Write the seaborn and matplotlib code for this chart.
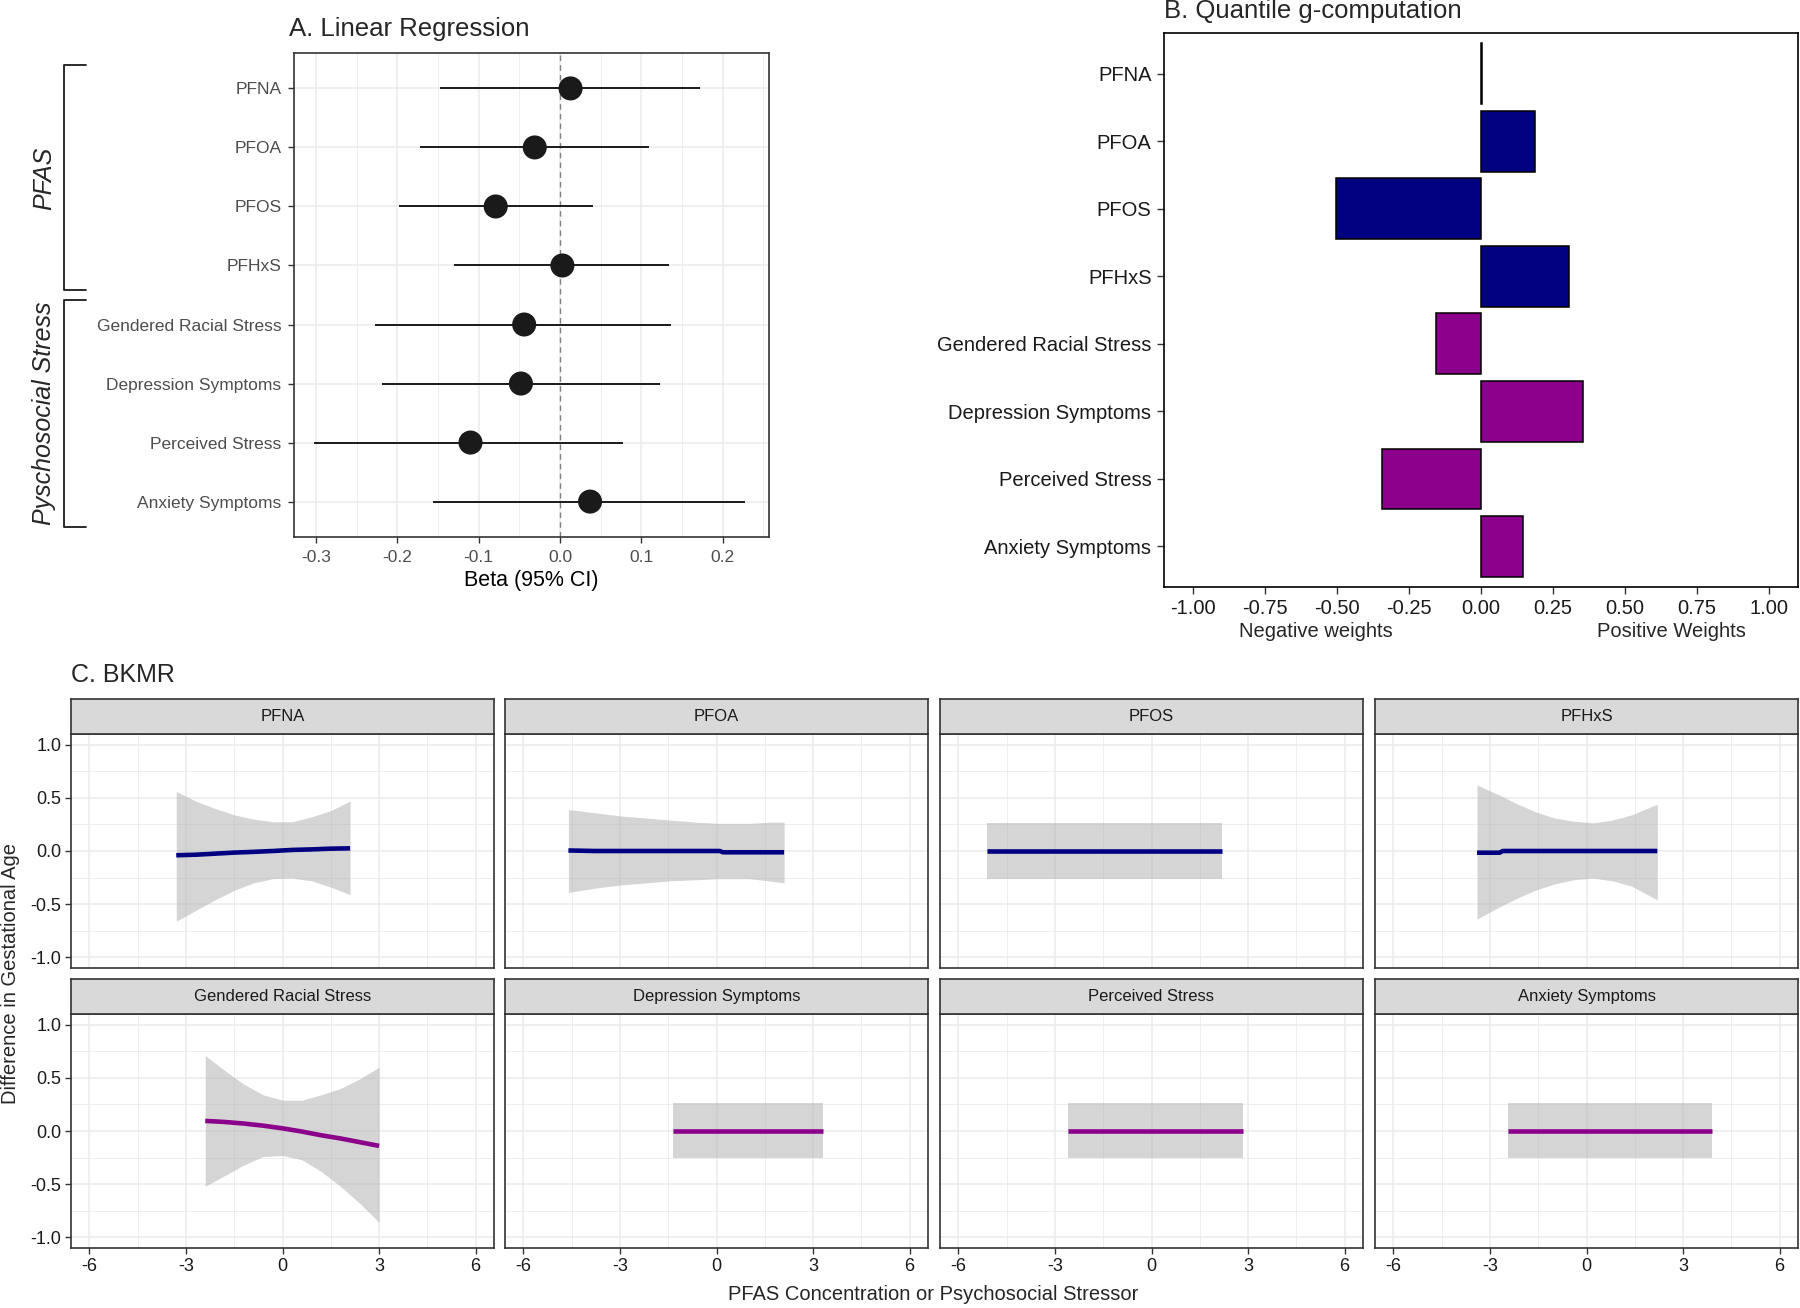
import numpy as np
import pandas as pd
import matplotlib.pyplot as plt
import seaborn as sns

# exposures, listed top to bottom
exposures = ['PFNA', 'PFOA', 'PFOS', 'PFHxS', 'Gendered Racial Stress',
             'Depression Symptoms', 'Perceived Stress', 'Anxiety Symptoms']
exp_group = ['PFAS'] * 4 + ['Stress'] * 4

# A. linear regression betas and 95% CI
beta = [0.013, -0.031, -0.079, 0.003, -0.044, -0.048, -0.110, 0.037]
ci_low = [-0.147, -0.172, -0.198, -0.130, -0.228, -0.219, -0.302, -0.156]
ci_high = [0.172, 0.109, 0.040, 0.134, 0.137, 0.123, 0.078, 0.228]

# B. quantile g-computation weights
qg_weights = [0.005, 0.188, -0.503, 0.305, -0.155, 0.355, -0.342, 0.147]

# C. BKMR univariate exposure-response (x, estimate, lower, upper)
pfna_x = [-3.3, -2.7, -2.1, -1.5, -0.9, -0.3, 0.3, 0.9, 1.5, 2.1]
pfna_est = [-0.04, -0.035, -0.025, -0.015, -0.008, 0.0, 0.01, 0.015, 0.022, 0.025]
pfna_lo = [-0.66, -0.56, -0.46, -0.37, -0.30, -0.26, -0.255, -0.28, -0.34, -0.41]
pfna_hi = [0.56, 0.47, 0.40, 0.34, 0.30, 0.275, 0.275, 0.32, 0.38, 0.47]

pfoa_x = [-4.6, -3.8, -3.0, -2.2, -1.4, -0.6, 0.1, 0.2, 1.0, 1.6, 2.1]
pfoa_est = [0.005, 0.0, 0.0, 0.0, 0.0, 0.0, 0.0, -0.012, -0.012, -0.012, -0.012]
pfoa_lo = [-0.39, -0.35, -0.32, -0.30, -0.28, -0.27, -0.26, -0.26, -0.26, -0.28, -0.30]
pfoa_hi = [0.39, 0.36, 0.33, 0.31, 0.29, 0.27, 0.26, 0.26, 0.26, 0.27, 0.27]

pfos_x = [-5.1, 2.2]
pfos_est = [0.0, 0.0]
pfos_lo = [-0.265, -0.265]
pfos_hi = [0.26, 0.26]

pfhxs_x = [-3.4, -2.7, -2.6, -2.2, -1.6, -1.0, -0.4, 0.2, 0.8, 1.4, 2.2]
pfhxs_est = [-0.016, -0.016, 0.0, 0.0, 0.0, 0.0, 0.0, 0.0, 0.0, 0.0, 0.0]
pfhxs_lo = [-0.64, -0.525, -0.51, -0.45, -0.37, -0.31, -0.27, -0.255, -0.28, -0.33, -0.46]
pfhxs_hi = [0.62, 0.525, 0.51, 0.45, 0.37, 0.31, 0.28, 0.265, 0.29, 0.34, 0.44]

grs_x = [-2.4, -1.8, -1.2, -0.6, 0.0, 0.6, 1.2, 1.8, 2.4, 3.0]
grs_est = [0.095, 0.085, 0.07, 0.05, 0.025, -0.005, -0.04, -0.07, -0.105, -0.14]
grs_lo = [-0.52, -0.42, -0.32, -0.24, -0.23, -0.27, -0.38, -0.52, -0.68, -0.86]
grs_hi = [0.71, 0.57, 0.44, 0.34, 0.29, 0.29, 0.34, 0.40, 0.49, 0.60]

dep_x = [-1.35, 3.3]
dep_est = [0.0, 0.0]
dep_lo = [-0.25, -0.25]
dep_hi = [0.26, 0.26]

perc_x = [-2.6, 2.85]
perc_est = [0.0, 0.0]
perc_lo = [-0.25, -0.25]
perc_hi = [0.26, 0.26]

anx_x = [-2.45, 3.9]
anx_est = [0.0, 0.0]
anx_lo = [-0.25, -0.25]
anx_hi = [0.26, 0.26]

bkmr_curves = [
    (pfna_x, pfna_est, pfna_lo, pfna_hi),
    (pfoa_x, pfoa_est, pfoa_lo, pfoa_hi),
    (pfos_x, pfos_est, pfos_lo, pfos_hi),
    (pfhxs_x, pfhxs_est, pfhxs_lo, pfhxs_hi),
    (grs_x, grs_est, grs_lo, grs_hi),
    (dep_x, dep_est, dep_lo, dep_hi),
    (perc_x, perc_est, perc_lo, perc_hi),
    (anx_x, anx_est, anx_lo, anx_hi),
]

NAVY = '#000080'
MAGENTA = '#8B008B'
group_colors = {'PFAS': NAVY, 'Stress': MAGENTA}

sns.set_theme(style='white')
plt.rcParams['font.family'] = ['Liberation Sans', 'DejaVu Sans']
plt.rcParams['axes.unicode_minus'] = False

W, H = 1800, 1308
fig = plt.figure(figsize=(W / 100, H / 100), dpi=100)
fig.patch.set_facecolor('white')


def px_axes(left, top, right, bottom):
    # axes placed by pixel box (top-left origin)
    return fig.add_axes([left / W, 1 - bottom / H, (right - left) / W, (bottom - top) / H])


# overlay for titles and brackets
ov = fig.add_axes([0, 0, 1, 1])
ov.set_xlim(0, W)
ov.set_ylim(H, 0)
ov.axis('off')

# ---------------- A. Linear Regression ----------------
axA = px_axes(294, 53, 769, 537)
ypos = np.arange(len(exposures))
axA.set_xticks([-0.25, -0.15, -0.05, 0.05, 0.15, 0.25], minor=True)
axA.grid(which='major', color='#EBEBEB', lw=1.1)
axA.grid(which='minor', color='#EBEBEB', lw=0.6)
axA.set_axisbelow(True)
axA.axvline(0, color='#808080', lw=1.0, ls=(0, (4, 3)), zorder=1)
axA.hlines(ypos, ci_low, ci_high, color='#1A1A1A', lw=1.4, zorder=2)
sns.scatterplot(x=beta, y=ypos, ax=axA, color='#1A1A1A', s=300, edgecolor='none', zorder=3)
axA.set_xlim(-0.327, 0.257)
axA.set_ylim(7.6, -0.6)
axA.set_xticks([-0.3, -0.2, -0.1, 0.0, 0.1, 0.2])
axA.set_xticklabels(['-0.3', '-0.2', '-0.1', '0.0', '0.1', '0.2'])
axA.set_yticks(ypos)
axA.set_yticklabels(exposures)
axA.tick_params(axis='both', which='major', labelsize=12.5, labelcolor='#4D4D4D',
                color='#333333', length=4, width=1, pad=5, left=True, bottom=True)
axA.tick_params(which='minor', length=0)
for s in axA.spines.values():
    s.set_color('#333333')
    s.set_linewidth(1.2)
axA.set_xlabel('Beta (95% CI)', fontsize=15.5, color='black', labelpad=4)
axA.set_ylabel('')

ov.text(289, 29, 'A. Linear Regression', fontsize=18.5, ha='left', va='center')
# brackets for the exposure groups
ov.plot([86, 64, 64, 86], [65, 65, 290, 290], color='#1A1A1A', lw=1.3)
ov.plot([86, 64, 64, 86], [300, 300, 527, 527], color='#1A1A1A', lw=1.3)
ov.text(44, 178, 'PFAS', fontsize=18, style='italic', rotation=90, ha='center', va='center')
ov.text(44, 413, 'Pyschosocial Stress', fontsize=18, style='italic', rotation=90,
        ha='center', va='center')

# ---------------- B. Quantile g-computation ----------------
axB = px_axes(1164, 33, 1798, 587)
qg_df = pd.DataFrame({'exposure': exposures, 'weight': qg_weights, 'group': exp_group})
sns.barplot(data=qg_df, x='weight', y='exposure', hue='group', palette=group_colors,
            saturation=1, dodge=False, width=0.9, edgecolor='black', linewidth=1.1,
            legend=False, orient='h', ax=axB)
axB.set_xlim(-1.1, 1.1)
axB.set_ylim(7.6, -0.6)
axB.set_xticks([-1.0, -0.75, -0.5, -0.25, 0.0, 0.25, 0.5, 0.75, 1.0])
axB.set_xticklabels(['-1.00', '-0.75', '-0.50', '-0.25', '0.00', '0.25', '0.50', '0.75', '1.00'])
axB.tick_params(axis='both', labelsize=14.5, labelcolor='#1A1A1A', color='#333333',
                length=5, width=1, pad=4, left=True, bottom=True)
for s in axB.spines.values():
    s.set_color('black')
    s.set_linewidth(1.2)
axB.set_xlabel('')
axB.set_ylabel('')
axB.text(0.24, -0.08, 'Negative weights', transform=axB.transAxes, fontsize=14.5,
         ha='center', va='center')
axB.text(0.80, -0.08, 'Positive Weights', transform=axB.transAxes, fontsize=14.5,
         ha='center', va='center')
ov.text(1164, 11, 'B. Quantile g-computation', fontsize=18.5, ha='left', va='center')

# ---------------- C. BKMR ----------------
ov.text(71, 675, 'C. BKMR', fontsize=18, ha='left', va='center')
cols = [(71, 494), (505, 928), (940, 1363), (1375, 1798)]
rows = [(699, 734, 968), (979, 1014, 1248)]

for i, (name, curve) in enumerate(zip(exposures, bkmr_curves)):
    r, c = divmod(i, 4)
    left, right = cols[c]
    s_top, p_top, p_bot = rows[r]
    ax = px_axes(left, p_top, right, p_bot)
    st = px_axes(left, s_top, right, p_top)
    st.set_facecolor('#D9D9D9')
    st.set_xticks([])
    st.set_yticks([])
    for s in st.spines.values():
        s.set_color('#333333')
        s.set_linewidth(1.2)
    st.text(0.5, 0.5, name, transform=st.transAxes, fontsize=12, color='#1A1A1A',
            ha='center', va='center')

    xs, est, lo, hi = curve
    col = group_colors[exp_group[i]]
    ax.fill_between(xs, lo, hi, color='#B3B3B3', alpha=0.55, lw=0, zorder=2)
    sns.lineplot(x=xs, y=est, ax=ax, color=col, lw=3.3, zorder=3, solid_capstyle='butt')

    ax.set_xlim(-6.57, 6.57)
    ax.set_ylim(-1.1, 1.1)
    ax.set_xticks([-6, -3, 0, 3, 6])
    ax.set_xticks([-4.5, -1.5, 1.5, 4.5], minor=True)
    ax.set_yticks([-1.0, -0.5, 0.0, 0.5, 1.0])
    ax.set_yticks([-0.75, -0.25, 0.25, 0.75], minor=True)
    ax.set_xticklabels(['-6', '-3', '0', '3', '6'])
    ax.set_yticklabels(['-1.0', '-0.5', '0.0', '0.5', '1.0'])
    ax.grid(which='major', color='#EBEBEB', lw=1.1)
    ax.grid(which='minor', color='#EBEBEB', lw=0.6)
    ax.set_axisbelow(True)
    ax.tick_params(axis='both', which='major', labelsize=13, labelcolor='#1A1A1A',
                   color='#333333', length=4, width=1, pad=3,
                   left=(c == 0), bottom=(r == 1),
                   labelleft=(c == 0), labelbottom=(r == 1))
    ax.tick_params(which='minor', length=0)
    for s in ax.spines.values():
        s.set_color('#333333')
        s.set_linewidth(1.2)

ov.text(933, 1295, 'PFAS Concentration or Psychosocial Stressor', fontsize=14.5,
        ha='center', va='center')
ov.text(11, 973, 'Difference in Gestational Age', fontsize=14.5, rotation=90,
        ha='center', va='center')

fig.savefig('out.png', dpi=100, facecolor='white')
